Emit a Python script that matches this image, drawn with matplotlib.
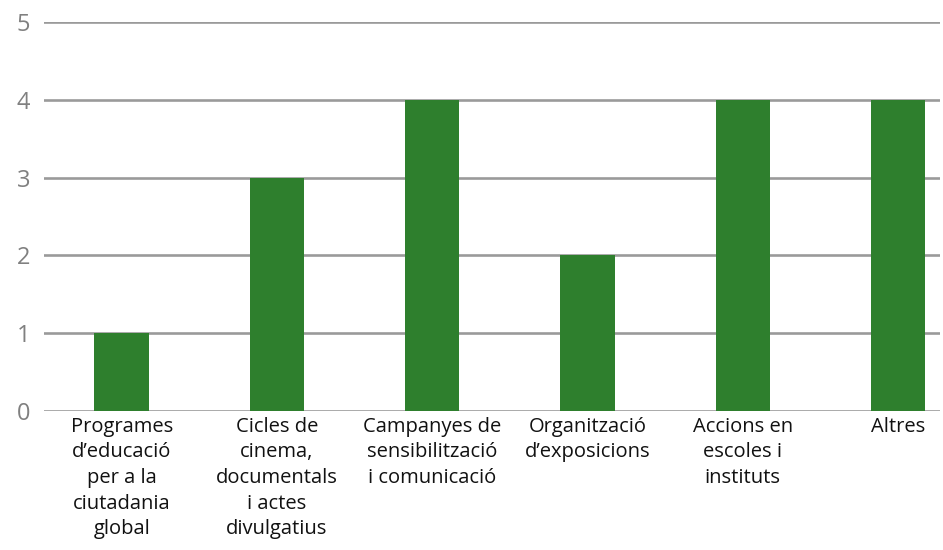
import matplotlib.pyplot as plt

categories = [
    "Programes\nd\u2019educació\nper a la\nciutadania\nglobal",
    "Cicles de\ncinema,\ndocumentals\ni actes\ndivulgatius",
    "Campanyes de\nsensibilització\ni comunicació",
    "Organització\nd\u2019exposicions",
    "Accions en\nescoles i\ninstituts",
    "Altres",
]
values = [1, 3, 4, 2, 4, 4]
y_ticks = [0, 1, 2, 3, 4, 5]

plt.rcParams['font.family'] = ['Open Sans', 'DejaVu Sans']

fig = plt.figure(figsize=(9.43, 5.5), dpi=100)
ax = fig.add_axes([44 / 943, 139 / 550, (940 - 44) / 943, (411 - 22) / 550])

x = range(len(categories))
ax.bar(x, values, width=0.35, color="#2e7f2d", zorder=2)

ax.set_ylim(0, 5)
ax.set_xlim(-0.5, 5.27)
ax.set_yticks(y_ticks)
ax.set_xticks(list(x))
ax.set_xticklabels(categories, fontsize=14.5, color="#111111", linespacing=1.38)
ax.tick_params(axis="y", labelsize=17, colors="#808080", length=0, pad=10)
ax.tick_params(axis="x", length=0, pad=4)
ax.yaxis.grid(True, color="#9a9a9a", linewidth=1.9, zorder=1)
ax.set_axisbelow(True)
for s in ax.spines.values():
    s.set_visible(False)

fig.savefig("out.png", dpi=100)
